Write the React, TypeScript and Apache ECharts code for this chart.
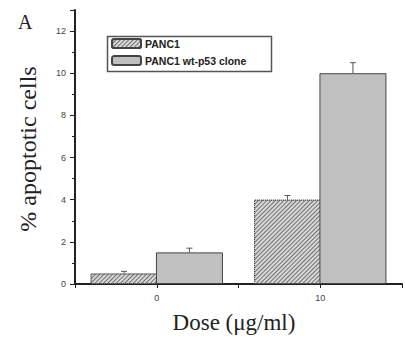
import React, { useEffect, useRef } from "react";
import * as echarts from "echarts";

const seriesNames = ["PANC1", "PANC1 wt-p53 clone"];
const doses = [0, 10];
const panc1Values = [0.5, 4.0];
const panc1Errors = [0.1, 0.2];
const wtValues = [1.5, 10.0];
const wtErrors = [0.2, 0.5];
const barOffset = 2; // bar centers sit 2 dose units left/right of each dose
const yTicks = [0, 2, 4, 6, 8, 10, 12];
const xTickLabels = [0, 10];

export default function App() {
  const ref = useRef<HTMLDivElement>(null);
  useEffect(() => {
    if (!ref.current) return;
    const chart = echarts.init(ref.current, null, { renderer: "svg" });
    const panc1Data = doses.map((d, i) => [d - barOffset, panc1Values[i]]);
    const wtData = doses.map((d, i) => [d + barOffset, wtValues[i]]);
    const errData = [
      ...doses.map((d, i) => [d - barOffset, panc1Values[i], panc1Errors[i]]),
      ...doses.map((d, i) => [d + barOffset, wtValues[i], wtErrors[i]]),
    ];
    const serif = "'Liberation Serif', 'Times New Roman', serif";
    const sans = "'Liberation Sans', Arial, sans-serif";
    chart.setOption({
      animation: false,
      backgroundColor: "#ffffff",
      grid: { left: 75, top: 10, bottom: 54, right: -6, containLabel: false },
      xAxis: {
        type: "value",
        min: -5,
        max: 15,
        interval: 5,
        splitLine: { show: false },
        axisLine: { show: true, onZero: false, lineStyle: { color: "#222", width: 2 } },
        axisTick: { show: true, length: 4, lineStyle: { color: "#222", width: 1 } },
        axisLabel: {
          margin: 9,
          fontSize: 9,
          color: "#444",
          fontFamily: sans,
          formatter: (v: number) => (xTickLabels.includes(v) ? String(v) : ""),
        },
      },
      yAxis: {
        type: "value",
        min: 0,
        max: 13,
        interval: 2,
        splitLine: { show: false },
        axisLine: { show: true, onZero: false, lineStyle: { color: "#222", width: 2 } },
        axisTick: { show: true, length: 5, lineStyle: { color: "#222", width: 1 } },
        minorTick: { show: true, splitNumber: 2, length: 3, lineStyle: { color: "#222", width: 1 } },
        axisLabel: {
          margin: 9,
          fontSize: 9,
          color: "#444",
          fontFamily: sans,
          formatter: (v: number) => (yTicks.includes(v) ? String(v) : ""),
        },
      },
      legend: {
        left: 111,
        top: 38,
        orient: "vertical",
        itemWidth: 29,
        itemHeight: 9,
        itemGap: 6,
        padding: 0,
        data: seriesNames,
        textStyle: { fontSize: 10.5, fontWeight: "bold", color: "#222", fontFamily: sans, padding: [0, 0, 0, -1] },
      },
      graphic: [
        {
          type: "rect",
          left: 105,
          top: 34,
          shape: { width: 164, height: 35 },
          style: { fill: "none", stroke: "#555", lineWidth: 1.5 },
          z: 10,
        },
        {
          type: "text",
          left: 18,
          top: 12,
          style: { text: "A", fontSize: 20, fontFamily: serif, fill: "#222" },
        },
        {
          type: "text",
          x: 28,
          y: 149,
          rotation: Math.PI / 2,
          style: {
            text: "% apoptotic cells",
            fontSize: 24,
            fontFamily: serif,
            fill: "#222",
            align: "center",
            verticalAlign: "middle",
          },
        },
        {
          type: "text",
          x: 234,
          y: 322,
          style: {
            text: "Dose (\u03bcg/ml)",
            fontSize: 23,
            fontFamily: serif,
            fill: "#222",
            align: "center",
            verticalAlign: "middle",
          },
        },
      ],
      series: [
        {
          name: seriesNames[0],
          type: "bar",
          barWidth: 67,
          barGap: "-100%",
          data: panc1Data,
          itemStyle: {
            color: "#d8d8d8",
            borderColor: "#444",
            borderWidth: 1,
            borderType: "dotted",
            decal: {
              symbol: "rect",
              symbolSize: 1,
              color: "#707070",
              dashArrayX: [1, 0],
              dashArrayY: [1, 2],
              rotation: -Math.PI / 4,
            },
          },
        },
        {
          name: seriesNames[1],
          type: "bar",
          barWidth: 67,
          barGap: "-100%",
          data: wtData,
          itemStyle: { color: "#c0c0c0", borderColor: "#444", borderWidth: 1 },
        },
        {
          type: "custom",
          data: errData,
          z: 5,
          renderItem: (params: any, api: any) => {
            const x = api.value(0);
            const y = api.value(1);
            const e = api.value(2);
            const p0 = api.coord([x, y]);
            const p1 = api.coord([x, y + e]);
            return {
              type: "group",
              children: [
                {
                  type: "line",
                  shape: { x1: p0[0], y1: p0[1], x2: p1[0], y2: p1[1] },
                  style: { stroke: "#555", lineWidth: 1 },
                },
                {
                  type: "line",
                  shape: { x1: p1[0] - 3, y1: p1[1], x2: p1[0] + 3, y2: p1[1] },
                  style: { stroke: "#555", lineWidth: 1 },
                },
              ],
            };
          },
        },
      ],
    });
    return () => chart.dispose();
  }, []);
  return (
    <div
      ref={ref}
      style={{ position: "fixed", left: 0, top: 0, width: 405, height: 338 }}
    />
  );
}
